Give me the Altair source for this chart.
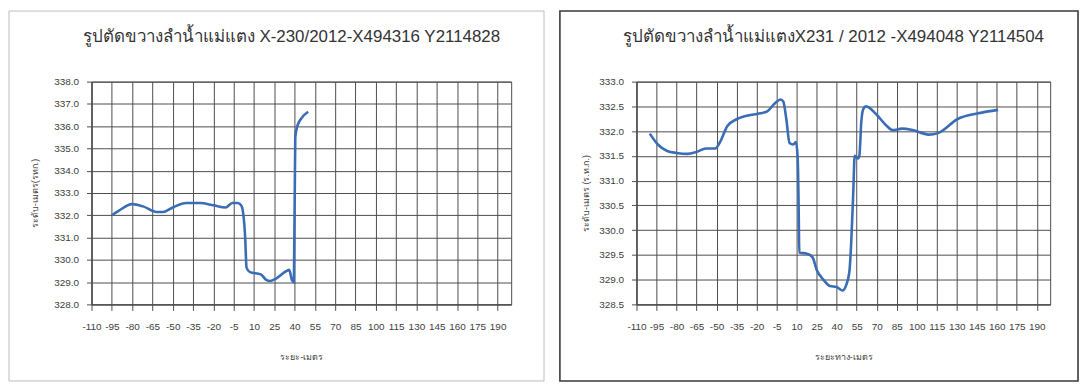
import altair as alt
import pandas as pd

# ---- data ----
left_x = [-95, -90, -80, -72, -62, -57, -50, -40, -30, -20, -11, -6, -2, 0.5, 2, 3.5, 4.5, 7,
          15, 19, 22, 26, 34, 36, 38, 39.5, 40.5, 42, 45, 50]
left_y = [332.0, 332.2, 332.5, 332.4, 332.15, 332.15, 332.35, 332.55, 332.55, 332.45, 332.35,
          332.55, 332.55, 332.45, 332.1, 331.0, 329.65, 329.45,
          329.35, 329.1, 329.05, 329.15, 329.5, 329.55, 329.1, 329.0, 335.5, 336.0, 336.35, 336.65]

right_x = [-100, -94, -87, -80, -72, -65, -58, -51, -47, -42, -35, -29, -19, -12, -6, -2, 0,
           2.3, 4.7, 7.5, 9.5, 10.8, 11.5, 12, 18, 22, 25, 30, 35, 40, 44.5, 47, 49.5, 51, 52.5,
           53.5, 56, 57, 58.5, 60, 62, 70, 77, 82, 89, 96, 109, 116, 131, 146, 161]
right_y = [331.95, 331.73, 331.6, 331.56, 331.54, 331.58, 331.65, 331.65, 331.8, 332.1, 332.24,
           332.3, 332.35, 332.4, 332.57, 332.64, 332.6, 332.24, 331.76, 331.73, 331.78, 331.45,
           330.5, 329.55, 329.52, 329.45, 329.2, 329.0, 328.87, 328.85, 328.78, 328.88, 329.15,
           329.8, 330.8, 331.5, 331.45, 331.5, 332.2, 332.45, 332.5, 332.33, 332.12, 332.02,
           332.05, 332.03, 331.93, 331.96, 332.25, 332.36, 332.43]

x_ticks = [-110, -95, -80, -65, -50, -35, -20, -5, 10, 25, 40, 55, 70, 85, 100, 115, 130,
           145, 160, 175, 190]
left_y_ticks = [328.0, 329.0, 330.0, 331.0, 332.0, 333.0, 334.0, 335.0, 336.0, 337.0, 338.0]
right_y_ticks = [328.5, 329.0, 329.5, 330.0, 330.5, 331.0, 331.5, 332.0, 332.5, 333.0]

left_title = "รูปตัดขวางลำน้ำแม่แตง X-230/2012-X494316 Y2114828"
right_title = "รูปตัดขวางลำน้ำแม่แตงX231 / 2012 -X494048 Y2114504"
left_ytitle = "ระดับ-เมตร(รทก.)"
right_ytitle = "ระดับ-เมตร (ร.ท.ก.)"
left_xtitle = "ระยะ-เมตร"
right_xtitle = "ระยะทาง-เมตร"

FONT = "Liberation Sans"
LINE = "#3a6db5"


def panel(xs, ys, title, ydomain, yticks, ytitle, xtitle, w, h, box, fcolor, fwidth, ytp):
    df = pd.DataFrame({"x": xs, "y": ys})
    line = alt.Chart(df).mark_line(
        interpolate="monotone", color=LINE, strokeWidth=2.6
    ).encode(
        x=alt.X("x:Q", scale=alt.Scale(domain=[-110, 200], nice=False, zero=False),
                axis=alt.Axis(values=x_ticks, title=xtitle, labelOverlap=False,
                              labelFlush=False,
                              labelExpr="toString(datum.value)",
                              labelFontSize=10, tickSize=6, labelPadding=11,
                              titlePadding=21, titleFontSize=9)),
        y=alt.Y("y:Q", scale=alt.Scale(domain=ydomain, nice=False, zero=False),
                axis=alt.Axis(values=yticks, format=".1f", title=ytitle, labelFlush=False,
                              labelFontSize=10, tickSize=5, labelPadding=8,
                              titlePadding=ytp, titleFontSize=9)),
    )
    frame = alt.Chart(pd.DataFrame({"a": [0]})).mark_rect(
        fillOpacity=0, stroke=fcolor, strokeWidth=fwidth
    ).encode(
        x=alt.value(box[0]), x2=alt.value(box[1]),
        y=alt.value(box[2]), y2=alt.value(box[3]),
    )
    return alt.layer(frame, line).properties(
        width=w, height=h,
        title=alt.TitleParams(title, fontSize=17, fontWeight="normal", color="#333333",
                              anchor="middle", offset=0, dy=36, dx=-10, font=FONT),
    )


left = panel(left_x, left_y, left_title, [328, 338], left_y_ticks, left_ytitle, left_xtitle,
             422, 224, (-83, 455, -71, 301), "#bdbdbd", 1, 14)
right = panel(right_x, right_y, right_title, [328.5, 333], right_y_ticks, right_ytitle,
              right_xtitle, 416, 224, (-77, 444, -71, 301), "#3a3a3a", 1.6, 8)

chart = alt.hconcat(left, right, spacing=13).properties(
    padding=0, background="white"
).configure_view(
    stroke="#4d4d4d", strokeWidth=1
).configure_axis(
    gridColor="#4d4d4d", gridWidth=1, domainColor="#4d4d4d", tickColor="#4d4d4d",
    labelColor="#404040", titleColor="#404040", labelFont=FONT, titleFont=FONT,
    titleFontWeight="normal"
)

chart.save("out.html", embed_options={"renderer": "svg", "actions": False})
